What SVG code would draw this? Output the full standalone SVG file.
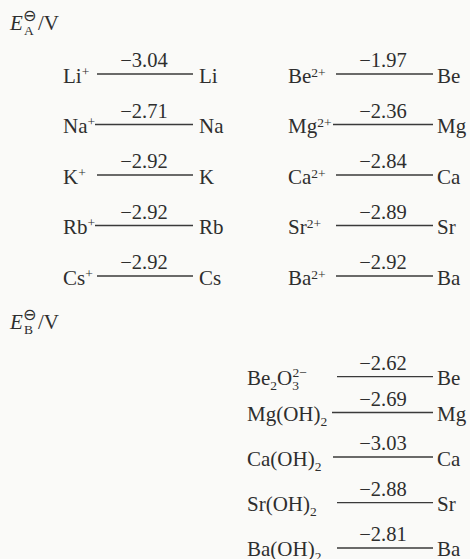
<svg xmlns="http://www.w3.org/2000/svg" width="470" height="559" viewBox="0 0 470 559">
<style>
text{font-family:"Liberation Serif","Times New Roman",serif;font-size:21px;fill:#2e2e2e}
.v{text-anchor:middle;font-size:20.5px}
.s{font-size:13.5px}
.o{font-family:"DejaVu Sans",sans-serif;font-size:16px}
.h{font-size:21px}
.i{font-style:italic}
line{stroke:#3a3a3a;stroke-width:1.3}
</style>
<rect width="470" height="559" fill="#fafaf8"/>
<g id="header-a"><text class="h" x="10" y="30"><tspan class="i">E</tspan></text><text class="o" x="23" y="21">⊖</text><text class="s" x="24" y="35">A</text><text class="h" x="38" y="30">/V</text></g>
<g id="header-b"><text class="h" x="10" y="328.5"><tspan class="i">E</tspan></text><text class="o" x="23" y="319.5">⊖</text><text class="s" x="24" y="333.5">B</text><text class="h" x="38" y="328.5">/V</text></g>

<g id="connectors">
<line x1="97" y1="74" x2="193" y2="74"/>
<line x1="95" y1="124.5" x2="193" y2="124.5"/>
<line x1="97" y1="175" x2="193" y2="175"/>
<line x1="95" y1="225.5" x2="193" y2="225.5"/>
<line x1="97" y1="276" x2="193" y2="276"/>
<line x1="336" y1="74" x2="433" y2="74"/>
<line x1="333" y1="124.5" x2="433" y2="124.5"/>
<line x1="336" y1="175" x2="433" y2="175"/>
<line x1="336" y1="225.5" x2="433" y2="225.5"/>
<line x1="336" y1="276" x2="433" y2="276"/>
<line x1="337" y1="376.7" x2="433" y2="376.7"/>
<line x1="332" y1="412.5" x2="433" y2="412.5"/>
<line x1="333" y1="457" x2="433" y2="457"/>
<line x1="337" y1="502.7" x2="433" y2="502.7"/>
<line x1="337" y1="548" x2="433" y2="548"/>
<text class="v" x="144" y="67">−3.04</text>
<text class="v" x="144" y="117.5">−2.71</text>
<text class="v" x="144" y="168">−2.92</text>
<text class="v" x="144" y="218.5">−2.92</text>
<text class="v" x="144" y="269">−2.92</text>
<text class="v" x="383" y="67">−1.97</text>
<text class="v" x="383" y="117.5">−2.36</text>
<text class="v" x="383" y="168">−2.84</text>
<text class="v" x="383" y="218.5">−2.89</text>
<text class="v" x="383" y="269">−2.92</text>
<text class="v" x="383" y="369.7">−2.62</text>
<text class="v" x="383" y="405.5">−2.69</text>
<text class="v" x="383" y="450">−3.03</text>
<text class="v" x="383" y="495.7">−2.88</text>
<text class="v" x="383" y="541">−2.81</text>
</g>

<g id="li-ion"><text x="63" y="82.5">Li<tspan class="s" dy="-7">+</tspan></text></g>
<g id="li"><text x="199" y="82.5">Li</text></g>
<g id="na-ion"><text x="63" y="133">Na<tspan class="s" dy="-7">+</tspan></text></g>
<g id="na"><text x="199" y="133">Na</text></g>
<g id="k-ion"><text x="63" y="183.5">K<tspan class="s" dy="-7">+</tspan></text></g>
<g id="k"><text x="199" y="183.5">K</text></g>
<g id="rb-ion"><text x="63" y="234">Rb<tspan class="s" dy="-7">+</tspan></text></g>
<g id="rb"><text x="199" y="234">Rb</text></g>
<g id="cs-ion"><text x="63" y="284.5">Cs<tspan class="s" dy="-7">+</tspan></text></g>
<g id="cs"><text x="199" y="284.5">Cs</text></g>

<g id="be-ion"><text x="288" y="82.5">Be<tspan class="s" dy="-6">2+</tspan></text></g>
<g id="be"><text x="437" y="82.5">Be</text></g>
<g id="mg-ion"><text x="288" y="133">Mg<tspan class="s" dy="-6">2+</tspan></text></g>
<g id="mg"><text x="437" y="133">Mg</text></g>
<g id="ca-ion"><text x="288" y="183.5">Ca<tspan class="s" dy="-6">2+</tspan></text></g>
<g id="ca"><text x="437" y="183.5">Ca</text></g>
<g id="sr-ion"><text x="288" y="234">Sr<tspan class="s" dy="-6">2+</tspan></text></g>
<g id="sr"><text x="437" y="234">Sr</text></g>
<g id="ba-ion"><text x="288" y="284.5">Ba<tspan class="s" dy="-6">2+</tspan></text></g>
<g id="ba"><text x="437" y="284.5">Ba</text></g>

<g id="be2o3"><text x="247" y="385.2">Be<tspan class="s" dy="5">2</tspan><tspan dy="-5">O</tspan><tspan class="s" dy="5">3</tspan><tspan class="s" x="292.5" dy="-13">2−</tspan></text></g>
<g id="be-b"><text x="437" y="385.2">Be</text></g>
<g id="mgoh2"><text x="247" y="421">Mg(OH)<tspan class="s" dy="5">2</tspan></text></g>
<g id="mg-b"><text x="437" y="421">Mg</text></g>
<g id="caoh2"><text x="247" y="465.5">Ca(OH)<tspan class="s" dy="5">2</tspan></text></g>
<g id="ca-b"><text x="437" y="465.5">Ca</text></g>
<g id="sroh2"><text x="247" y="511.2">Sr(OH)<tspan class="s" dy="5">2</tspan></text></g>
<g id="sr-b"><text x="437" y="511.2">Sr</text></g>
<g id="baoh2"><text x="247" y="556">Ba(OH)<tspan class="s" dy="5">2</tspan></text></g>
<g id="ba-b"><text x="437" y="556">Ba</text></g>
</svg>
